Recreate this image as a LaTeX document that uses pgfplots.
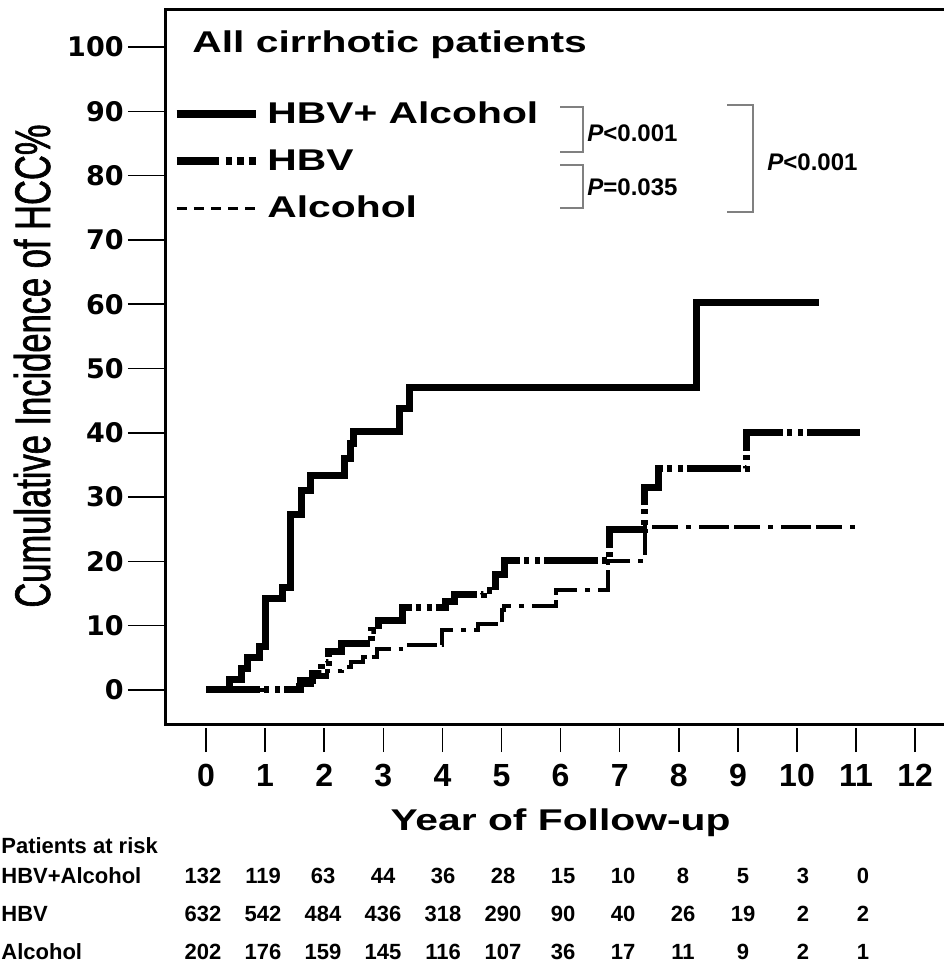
\documentclass[border=0pt]{standalone}
\usepackage{fontspec}
\usepackage{pgfplots}
\pgfplotsset{compat=1.18}
\setmainfont{Liberation Sans}
\newfontfamily\widefont{Liberation Sans}[FakeStretch=1.36]
\newfontfamily\ylabfont{Liberation Sans}[FakeStretch=0.69, FakeBold=1.2]
\newfontfamily\ytickfont{DejaVu Sans}
\begin{document}
\begin{tikzpicture}[x=1pt,y=1pt]
\useasboundingbox (0,0) rectangle (471.5,-484.5);
\begin{axis}[
  at={(82.5pt,-362pt)}, anchor=south west,
  scale only axis, width=391pt, height=357pt,
  xmin=-0.694, xmax=12.538, ymin=-5.29, ymax=105.75,
  axis line style={line width=1.5pt},
  xtick=\empty,
  ytick={0,10,...,100},
  ytick pos=left,
  tick align=outside,
  major tick length=18.5pt,
  y tick style={line width=0.75pt, black},
  /pgf/number format/assume math mode=true,
  yticklabel style={font=\ytickfont\bfseries\fontsize{13.5}{13.5}\selectfont, inner sep=0pt, xshift=-2pt},
  legend style={at={(axis cs:-0.56,91.5)}, anchor=north west,
    draw=none, fill=none, inner sep=0pt, outer sep=0pt,
    font=\widefont\bfseries\fontsize{15}{15}\selectfont,
    row sep=11.5pt, column sep=4pt, nodes={inner sep=0pt}},
  legend cell align=left,
  legend image code/.code={\draw[#1] (0pt,0pt) -- (39.5pt,0pt);},
]
\addlegendimage{line width=3.75pt}
\addlegendentry{HBV+ Alcohol}
\addlegendimage{line width=3.75pt, dash pattern=on 21pt off 3.5pt on 3pt off 2.5pt on 3.5pt off 2.5pt on 2.5pt off 0pt}
\addlegendentry{HBV}
\addlegendimage{line width=1.5pt, dash pattern=on 5pt off 3.6pt}
\addlegendentry{Alcohol}

% Alcohol
\addplot[const plot, forget plot, line width=2pt, dash pattern=on 15pt off 2.5pt on 13pt off 4pt on 2.5pt off 4pt] coordinates {
(0,0) (1.55,0.7) (1.8,2.0) (2.05,3.0) (2.3,3.6) (2.45,4.4) (2.65,5.2) (2.9,6.3)
(3.3,7.0) (4.0,9.3) (4.6,10.2) (5.0,12.4) (5.05,13.1) (5.92,15.5) (6.8,20.0)
(7.42,25.3) (11.05,25.3)};
% HBV
\addplot[const plot, forget plot, line width=3.5pt, dash pattern=on 27pt off 2pt on 2.5pt off 3pt on 2.5pt off 2pt] coordinates {
(0,0) (1.6,1.5) (1.8,2.5) (1.95,4.2) (2.08,6.0) (2.3,7.2) (2.8,9.3) (2.92,10.8)
(3.33,12.8) (4.05,13.7) (4.2,14.8) (4.7,15.5) (4.9,18.0) (5.05,20.2) (6.83,25.0)
(7.42,31.5) (7.65,34.4) (9.15,40.0) (11.07,40.0)};
% HBV + Alcohol
\addplot[const plot, forget plot, line width=3.5pt] coordinates {
(0,0) (0.4,1.7) (0.6,3.3) (0.71,5.1) (0.91,6.8) (1.0,14.2) (1.3,16.0) (1.43,27.3)
(1.62,31.0) (1.76,33.4) (2.35,36.0) (2.44,38.4) (2.5,40.2) (3.28,43.8) (3.45,47.0)
(8.3,60.2) (10.38,60.2)};
\end{axis}

\begin{axis}[
  at={(82.5pt,-364pt)}, anchor=south west,
  scale only axis, width=391pt, height=10pt,
  xmin=-0.694, xmax=12.538, ymin=0, ymax=1,
  hide y axis, axis x line*=bottom, x axis line style={draw=none},
  xtick={0,1,...,12}, tick align=outside, major tick length=12pt,
  x tick style={line width=0.75pt, black},
  /pgf/number format/assume math mode=true,
  xticklabel style={font=\bfseries\fontsize{16}{16}\selectfont, inner sep=0pt, yshift=-6pt},
]
\end{axis}

% title
\node[anchor=base west, inner sep=0pt, font=\widefont\bfseries\fontsize{15}{15}\selectfont] at (96,-26.5) {All cirrhotic patients};
% y label
\node[rotate=90, anchor=base, inner sep=0pt, font=\ylabfont\fontsize{25}{25}\selectfont] at (25,-183) {Cumulative Incidence of HCC\%};
% x label
\node[anchor=base, inner sep=0pt, font=\widefont\bfseries\fontsize{15}{15}\selectfont] at (280.25,-415) {Year of Follow-up};

% p-value brackets
\draw[black!50, line width=1pt] (280,-53.5) -- (291.5,-53.5) -- (291.5,-76) -- (280,-76);
\draw[black!50, line width=1pt] (280,-82.5) -- (291.5,-82.5) -- (291.5,-104) -- (280,-104);
\draw[black!50, line width=1pt] (363.5,-52.5) -- (376.5,-52.5) -- (376.5,-106) -- (363.5,-106);
\begin{scope}[every node/.style={anchor=west, inner sep=0pt, font=\bfseries\fontsize{12}{12}\selectfont}]
\node at (293.5,-66.5) {\textit{P}<0.001};
\node at (293.5,-93.5) {\textit{P}=0.035};
\node at (383.5,-81) {\textit{P}<0.001};
\end{scope}

% patients at risk
\begin{scope}[every node/.style={inner sep=0pt, font=\bfseries\fontsize{11}{11}\selectfont}]
\node[anchor=base west] at (0.5,-426.5) {Patients at risk};
\node[anchor=base west] at (0.5,-441.5) {HBV+Alcohol};
\node[anchor=base west] at (0.5,-460.5) {HBV};
\node[anchor=base west] at (0.5,-479.5) {Alcohol};
\foreach \v [count=\i from 0] in {132,119,63,44,36,28,15,10,8,5,3,0}
  \node[anchor=base] at (101.5+30*\i,-441.5) {\v};
\foreach \v [count=\i from 0] in {632,542,484,436,318,290,90,40,26,19,2,2}
  \node[anchor=base] at (101.5+30*\i,-460.5) {\v};
\foreach \v [count=\i from 0] in {202,176,159,145,116,107,36,17,11,9,2,1}
  \node[anchor=base] at (101.5+30*\i,-479.5) {\v};
\end{scope}
\end{tikzpicture}
\end{document}
